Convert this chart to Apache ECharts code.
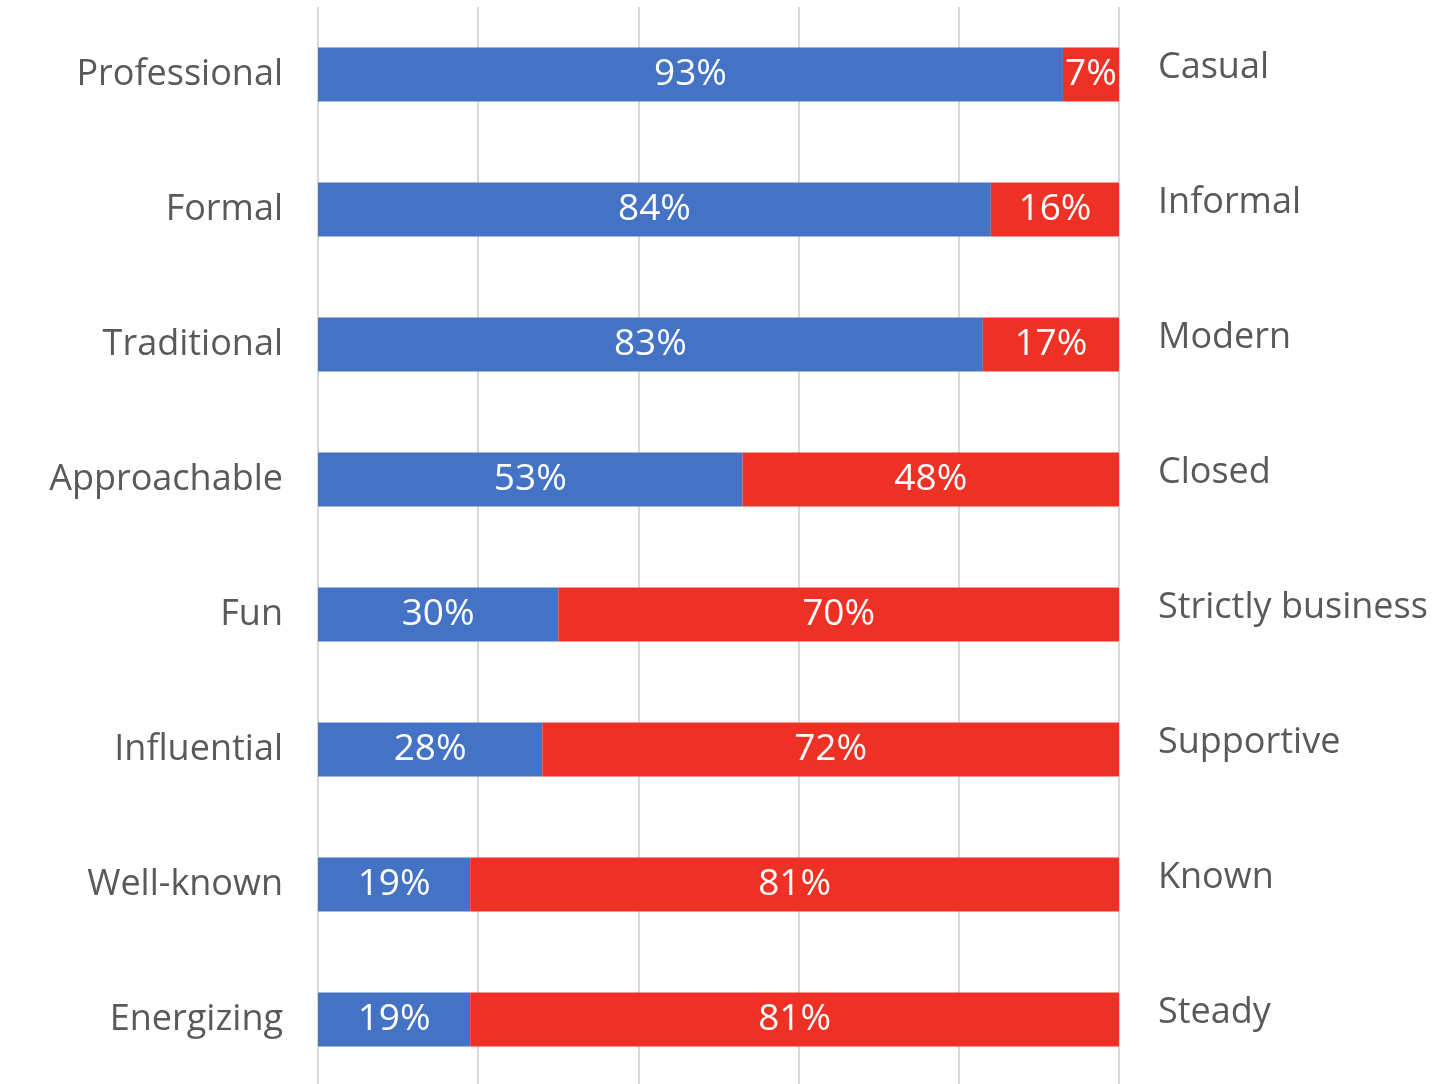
<!DOCTYPE html>
<html>
<head>
<meta charset="utf-8">
<script src="https://cdn.jsdelivr.net/npm/echarts@6/dist/echarts.min.js"></script>
<style>
  html, body { margin: 0; padding: 0; background: #ffffff; }
  #chart { width: 1435px; height: 1084px; }
</style>
</head>
<body>
<div id="chart"></div>
<script>
// Paired brand attributes: share choosing the left-hand trait vs. the right-hand one
const leftTraits = ['Professional', 'Formal', 'Traditional', 'Approachable', 'Fun', 'Influential', 'Well-known', 'Energizing'];
const rightTraits = ['Casual', 'Informal', 'Modern', 'Closed', 'Strictly business', 'Supportive', 'Known', 'Steady'];
const leftShare = [93, 84, 83, 53, 30, 28, 19, 19];
const rightShare = [7, 16, 17, 48, 70, 72, 81, 81];
const xTicks = [0, 20, 40, 60, 80, 100];

const FONT = '"Open Sans", Lato, sans-serif';
const TEXT = '#595959';

const chart = echarts.init(document.getElementById('chart'), null, { renderer: 'canvas' });

const barLabel = {
  show: true,
  position: 'inside',
  color: '#ffffff',
  fontFamily: FONT,
  fontSize: 37,
  formatter: p => p.value + '%'
};

chart.setOption({
  animation: false,
  backgroundColor: '#ffffff',
  grid: {
    left: 318, right: 316, top: 7, height: 1080,
    containLabel: false,
    outerBoundsMode: 'none'
  },
  xAxis: {
    type: 'value',
    min: xTicks[0],
    max: xTicks[xTicks.length - 1],
    interval: xTicks[1] - xTicks[0],
    axisLabel: { show: false },
    axisLine: { show: false },
    axisTick: { show: false },
    splitLine: { show: true, lineStyle: { color: '#d9d9d9', width: 2 } }
  },
  yAxis: [
    {
      type: 'category',
      data: leftTraits,
      inverse: true,
      axisLine: { show: false },
      axisTick: { show: false },
      axisLabel: { margin: 35, color: TEXT, fontFamily: FONT, fontSize: 36 }
    },
    {
      type: 'category',
      data: rightTraits,
      inverse: true,
      position: 'right',
      axisLine: { show: false },
      axisTick: { show: false },
      axisLabel: {
        margin: 39,
        formatter: v => '{r|' + v + '}',
        rich: { r: { color: TEXT, fontFamily: FONT, fontSize: 36, padding: [0, 0, 14, 0] } }
      }
    }
  ],
  series: [
    {
      name: 'Left trait',
      type: 'bar',
      stack: 'share',
      barWidth: '40%',
      data: leftShare,
      itemStyle: { color: '#4472c4' },
      label: barLabel
    },
    {
      name: 'Right trait',
      type: 'bar',
      stack: 'share',
      barWidth: '40%',
      data: rightShare,
      itemStyle: { color: '#ee3124' },
      label: barLabel
    }
  ]
});
</script>
</body>
</html>
